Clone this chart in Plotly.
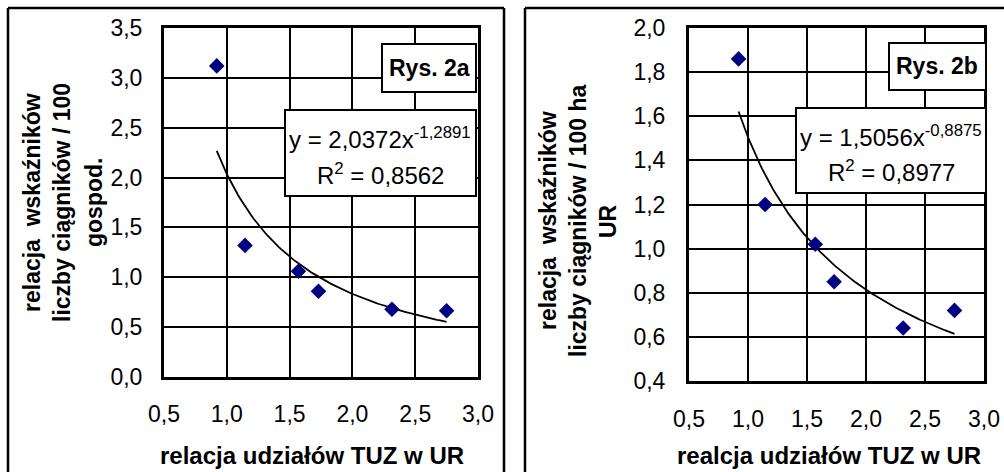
import numpy as np
import plotly.graph_objects as go

W, H = 1004, 472

# ---- data ----
x_rel = [0.92, 1.145, 1.57, 1.73, 2.315, 2.75]
y_a = [3.12, 1.32, 1.06, 0.86, 0.68, 0.665]
y_b = [1.86, 1.20, 1.02, 0.85, 0.64, 0.72]

# fitted power trend coefficients (as printed on the chart)
coef_a, exp_a = 2.0372, -1.2891
coef_b, exp_b = 1.5056, -0.8875
r2_a, r2_b = "0,8562", "0,8977"

x_ticks = [0.5, 1.0, 1.5, 2.0, 2.5, 3.0]

def px(x):
    return x / W

def py(y):
    return 1 - y / H

FONT = "Liberation Sans, Arial, sans-serif"
fig = go.Figure()

trend_x = np.linspace(min(x_rel), max(x_rel), 120)

for i, (yv, c, e) in enumerate([(y_a, coef_a, exp_a), (y_b, coef_b, exp_b)]):
    xa = "x" if i == 0 else "x2"
    ya = "y" if i == 0 else "y2"
    fig.add_trace(go.Scatter(x=trend_x, y=c * trend_x ** e, mode="lines",
                             line=dict(color="black", width=1.8),
                             xaxis=xa, yaxis=ya, showlegend=False, hoverinfo="skip"))
    fig.add_trace(go.Scatter(x=x_rel, y=yv, mode="markers",
                             marker=dict(symbol="diamond", size=12, color="#000080",
                                         line=dict(width=0)),
                             xaxis=xa, yaxis=ya, showlegend=False))

axis_common = dict(showgrid=True, gridcolor="black", gridwidth=2.3, zeroline=False,
                   showline=True, linecolor="black", linewidth=3, mirror=True,
                   ticks="", tickfont=dict(family=FONT, size=23, color="black"),
                   tickformat=".1f", automargin=False)

# plot areas in pixels
A = dict(x0=164, x1=478, y0=28, y1=377)
B = dict(x0=689, x1=984, y0=28, y1=381)

fig.update_layout(
    width=W, height=H, margin=dict(l=0, r=0, t=0, b=0, pad=0),
    paper_bgcolor="white", plot_bgcolor="white", separators=",.",
    xaxis=dict(domain=[px(A["x0"]), px(A["x1"])], range=[0.5, 3.0], tickvals=x_ticks,
               anchor="y", ticklabelstandoff=14, **axis_common),
    yaxis=dict(domain=[py(A["y1"]), py(A["y0"])], range=[0, 3.5], dtick=0.5,
               anchor="x", ticklabelstandoff=14, **axis_common),
    xaxis2=dict(domain=[px(B["x0"]), px(B["x1"])], range=[0.5, 3.0], tickvals=x_ticks,
                anchor="y2", ticklabelstandoff=15, **axis_common),
    yaxis2=dict(domain=[py(B["y1"]), py(B["y0"])], range=[0.4, 2.0], dtick=0.2,
                anchor="x2", ticklabelstandoff=16, **axis_common),
)

shapes = []
# outer frames (open at bottom / right, as they run past the picture's edge)
def seg(x0, y0, x1, y1, w=2.5):
    shapes.append(dict(type="line", xref="paper", yref="paper", x0=px(x0), x1=px(x1),
                       y0=py(y0), y1=py(y1), line=dict(color="black", width=w), layer="above"))
seg(8, 8, 8, 472)
seg(8, 8, 504, 8)
seg(504, 8, 504, 472)
seg(525, 8, 525, 472)
seg(525, 8, 1004, 8)

# label boxes
boxes = [(382, 476, 44, 92), (285, 476, 110, 196), (889, 986, 43, 90), (796, 986, 108, 193)]
for x0, x1, y0, y1 in boxes:
    shapes.append(dict(type="rect", xref="paper", yref="paper", x0=px(x0), x1=px(x1),
                       y0=py(y1), y1=py(y0), fillcolor="white",
                       line=dict(color="black", width=2), layer="above"))
fig.update_layout(shapes=shapes)

ann = []
def text(x, y, t, size=22, angle=0, bold=False):
    ann.append(dict(xref="paper", yref="paper", x=px(x), y=py(y), text=(f"<b>{t}</b>" if bold else t),
                    showarrow=False, xanchor="center", yanchor="middle", textangle=angle,
                    font=dict(family=FONT, size=size, color="black")))

text(429, 68, "Rys. 2a", 23, bold=True)
text(937, 66, "Rys. 2b", 23, bold=True)
text(380, 138, f"y = 2,0372x<sup>{str(exp_a).replace('.', ',')}</sup>", 24)
text(380, 174, f"R<sup>2</sup> = {r2_a}", 24)
text(891, 136, f"y = 1,5056x<sup>{str(exp_b).replace('.', ',')}</sup>", 24)
text(891, 171, f"R<sup>2</sup> = {r2_b}", 24)

# axis titles
text(312, 455, "relacja udziałów TUZ w UR", 24, bold=True)
text(829, 455, "realcja udziałów TUZ w UR", 24, bold=True)
text(32, 203, "relacja  wskaźników", 23, angle=-90, bold=True)
text(62, 203, "liczby ciągników / 100", 23, angle=-90, bold=True)
text(94, 203, "gospod.", 23, angle=-90, bold=True)
text(548, 221, "relacja  wskaźników", 23, angle=-90, bold=True)
text(578, 221, "liczby ciągników / 100 ha", 23, angle=-90, bold=True)
text(608, 221, "UR", 23, angle=-90, bold=True)
fig.update_layout(annotations=ann)

fig.write_html("out.html", config={"displayModeBar": False},
               post_script="document.body.style.margin='0';document.documentElement.style.overflow='hidden';document.body.style.overflow='hidden';")
